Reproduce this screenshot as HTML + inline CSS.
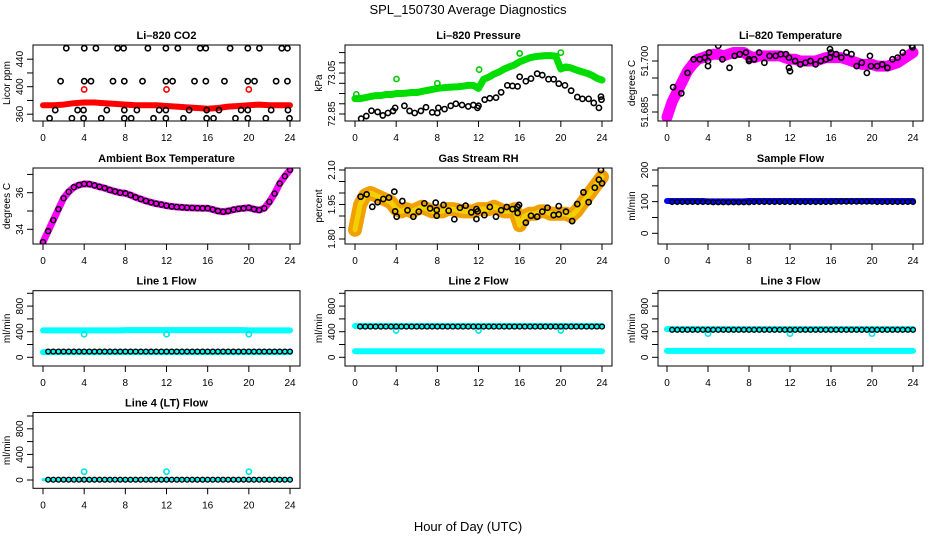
<!DOCTYPE html>
<html><head><meta charset="utf-8"><style>
html,body{margin:0;padding:0;background:#fff;}
svg{display:block;font-family:"Liberation Sans",sans-serif;}
</style></head><body>
<svg id="chart" width="936" height="540" viewBox="0 0 936 540" xmlns="http://www.w3.org/2000/svg">
<text x="468" y="14" text-anchor="middle" font-size="13">SPL_150730  Average Diagnostics</text>
<text x="468" y="531" text-anchor="middle" font-size="13">Hour of Day (UTC)</text>
</svg>
<script>
// ---------- data ----------
const xTickLabels = [0,4,8,12,16,20,24];
const halfHours = [0,0.5,1,1.5,2,2.5,3,3.5,4,4.5,5,5.5,6,6.5,7,7.5,8,8.5,9,9.5,10,10.5,11,11.5,12,12.5,13,13.5,14,14.5,15,15.5,16,16.5,17,17.5,18,18.5,19,19.5,20,20.5,21,21.5,22,22.5,23,23.5,24];
const blackHours = [0.5,1,1.5,2,2.5,3,3.5,4,4.5,5,5.5,6,6.5,7,7.5,8,8.5,9,9.5,10,10.5,11,11.5,12,12.5,13,13.5,14,14.5,15,15.5,16,16.5,17,17.5,18,18.5,19,19.5,20,20.5,21,21.5,22,22.5,23,23.5,24];
const dipHours = [4,12,20];

// CO2
const co2Hours = [0,1,2,3,4,5,6,7,8,9,10,11,12,13,14,15,16,17,18,19,20,21,22,23,24];
const co2Red = [373,373,374,376,377,377,376,375,374,373,373,373,372,371,370,369,368,369,371,372,373,374,373,373,373];
const co2RedOutliers = [396,396,396];
const co2BlackHours = [2.26,4.01,5.14,7.25,7.83,10.19,11.94,13.1,15.27,15.82,18.18,19.9,21.03,23.2,23.75,
 1.71,4.01,4.66,6.8,7.9,9.67,11.94,12.59,14.72,15.82,17.63,19.9,20.55,22.65,23.75,
 1.19,3.36,3.94,6.2,7.9,9.12,11.29,11.94,14.2,15.9,17.1,19.25,19.9,22.17,23.8,
 0.64,2.81,3.94,5.66,7.9,8.57,10.74,11.94,13.65,15.9,16.57,18.7,19.9,21.65,23.95];
const co2BlackVals = [456,456,456,456,456,456,456,456,456,456,456,456,456,456,456,
 408,408,408,408,408,408,408,408,408,408,408,408,408,408,408,
 366,366,366,366,366,366,366,366,366,366,366,366,366,366,366,
 354,354,354,354,354,354,354,354,354,354,354,354,354,354,354];

// Pressure
const presGreen = [72.925,72.925,72.93,72.935,72.94,72.94,72.945,72.945,72.95,72.95,72.952,72.955,72.955,72.96,72.965,72.97,72.975,72.978,72.98,72.982,72.983,72.986,72.99,72.99,72.975,73.02,73.03,73.045,73.055,73.07,73.08,73.09,73.105,73.115,73.125,73.13,73.133,73.135,73.135,73.133,73.07,73.08,73.075,73.065,73.057,73.05,73.04,73.025,73.016];
const presGreenOutHours = [0.13,4.03,8.0,12.06,16.0,20.0];
const presGreenOutVals = [72.946,73.021,73.0,73.067,73.146,73.15];
const presBlackHours = [0.6,1.1,1.6,2.2,2.7,3.2,3.7,3.9,4.8,5.3,5.8,6.4,6.9,7.5,8.0,8.1,8.7,9.3,9.8,10.4,11.0,11.5,11.9,12.0,12.6,13.1,13.7,14.2,14.8,15.3,15.8,16.0,16.6,17.1,17.7,18.2,18.8,19.3,19.8,20.4,21.0,21.6,22.1,22.7,23.2,23.7,23.9,23.95];
const presBlackVals = [72.827,72.84,72.866,72.86,72.843,72.855,72.865,72.88,72.89,72.865,72.855,72.865,72.883,72.858,72.855,72.88,72.874,72.89,72.9,72.894,72.887,72.894,72.88,72.89,72.92,72.927,72.93,72.956,72.99,72.987,72.985,73.032,73.01,73.023,73.047,73.04,73.02,73.02,72.998,72.99,72.964,72.933,72.924,72.924,72.904,72.88,72.935,72.92];

// Li-820 temperature
const tempMagenta = [51.6835,51.688,51.691,51.694,51.697,51.699,51.7005,51.701,51.7015,51.702,51.702,51.7015,51.702,51.7025,51.7025,51.7025,51.7015,51.701,51.7015,51.7015,51.7015,51.7015,51.7015,51.701,51.7005,51.7005,51.700,51.700,51.700,51.700,51.7005,51.701,51.701,51.701,51.701,51.7005,51.700,51.6995,51.699,51.699,51.699,51.6985,51.6985,51.6985,51.699,51.6995,51.7005,51.7015,51.7025];
const tempBlackHours = [0.6,1.4,2.0,2.6,3.2,3.7,4.0,4.0,4.1,5.0,5.4,6.1,6.6,7.1,7.7,8.0,8.0,8.5,9.0,9.5,10.0,10.6,11.1,11.6,11.9,11.9,12.0,12.5,13.0,13.5,14.0,14.5,15.0,15.5,15.9,15.9,16.0,16.5,17.0,17.5,18.0,18.5,19.0,19.5,19.8,19.9,20.5,21.0,21.5,22.0,22.5,23.0,23.9,23.95];
const tempBlackVals = [51.6923,51.6905,51.6965,51.7005,51.7005,51.701,51.6985,51.700,51.7025,51.7045,51.7005,51.698,51.7015,51.702,51.7025,51.700,51.7005,51.7005,51.7025,51.6995,51.7015,51.7015,51.702,51.702,51.701,51.698,51.697,51.700,51.699,51.6995,51.700,51.699,51.700,51.7005,51.701,51.7035,51.7025,51.702,51.701,51.7025,51.702,51.6985,51.6995,51.6965,51.7015,51.6985,51.6985,51.699,51.698,51.7005,51.701,51.7025,51.7045,51.704];

// Ambient box temperature
const boxTemp = [33.3,33.9,34.5,35.1,35.7,36.05,36.3,36.42,36.48,36.47,36.4,36.32,36.25,36.15,36.07,36.0,35.97,35.87,35.75,35.65,35.55,35.47,35.4,35.35,35.29,35.25,35.22,35.2,35.18,35.17,35.16,35.15,35.15,35.08,35.0,34.96,35.0,35.07,35.12,35.15,35.18,35.1,35.05,35.15,35.5,35.95,36.5,36.9,37.25];

// Gas stream RH
const rhBand = [1.84,1.95,1.99,2.0,1.99,1.98,1.97,1.96,1.93,1.92,1.93,1.92,1.93,1.94,1.93,1.92,1.92,1.92,1.93,1.93,1.925,1.92,1.92,1.92,1.93,1.93,1.93,1.94,1.93,1.92,1.92,1.93,1.86,1.9,1.91,1.91,1.92,1.92,1.91,1.91,1.91,1.91,1.9,1.92,1.95,1.98,2.01,2.04,2.07];
const rhBlackHours = [0.55,1.13,1.68,2.2,2.75,3.3,3.82,3.9,4.05,4.6,5.1,5.67,6.2,6.74,7.3,7.84,7.94,7.94,8.6,9.1,9.65,10.2,10.75,11.3,11.8,11.8,11.92,12.57,13.1,13.7,14.2,14.74,15.3,15.8,15.8,15.94,16.6,17.1,17.7,18.2,18.7,19.3,19.8,19.8,20.5,21.1,21.6,22.2,22.7,23.3,23.7,23.9,24.0];
const rhBlackVals = [1.984,1.994,1.94,1.96,1.974,1.98,2.006,1.92,1.897,1.965,1.925,1.897,1.919,1.955,1.933,1.958,1.926,1.901,1.948,1.923,1.886,1.936,1.945,1.916,1.93,1.887,1.92,1.904,1.939,1.897,1.925,1.939,1.93,1.94,1.913,1.948,1.871,1.901,1.897,1.919,1.936,1.904,1.943,1.907,1.919,1.878,1.952,2.003,1.96,2.023,2.058,2.1,2.042];

// Sample flow
const sampleBlue = [102,102,102,102,102,102,102,102,101,101,101,101,101,101,101,101,102,102,102,102,102,102,102,102,102,102,102,102,102,102,102,102,102,102,102,102,102,102,102,102,102,102,102,102,102,102,102,102,102];
const sampleBlack = [99,99,99,99,99,99,99,99,98,98,98,98,98,98,98,98,99,99,99,99,99,99,99,99,99,99,99,99,99,99,99,99,100,100,100,100,100,100,100,100,99,99,99,99,99,99,99,99];

// Line flows
const line1CyanHigh = [420,420,420,420,420,420,420,420,420,420,420,420,420,420,420,420,425,425,425,425,425,425,425,425,425,425,425,425,425,425,425,425,425,425,425,425,425,425,425,425,420,420,420,420,420,420,420,420,420];
const line1CyanLow = [80,80,80,80,80,80,80,80,80,80,80,80,80,80,80,80,80,80,80,80,80,80,80,80,80,80,80,80,80,80,80,80,80,80,80,80,80,80,80,80,80,80,80,80,80,80,80,80,80];
const line1Black = [90,90,90,90,90,90,90,90,90,90,90,90,90,90,90,90,90,90,90,90,90,90,90,90,90,90,90,90,90,90,90,90,90,90,90,90,90,90,90,90,90,90,90,90,90,90,90,90];
const line1Dips = [360,360,360];

const line2CyanHigh = [490,490,490,490,490,490,490,490,490,490,490,490,490,490,490,490,490,490,490,490,490,490,490,490,490,490,490,490,490,490,490,490,490,490,490,490,490,490,490,490,490,490,490,490,490,490,490,490,490];
const line2CyanLow = [95,95,95,95,95,95,95,95,95,95,95,95,95,95,95,95,95,95,95,95,95,95,95,95,95,95,95,95,95,95,95,95,95,95,95,95,95,95,95,95,95,95,95,95,95,95,95,95,95];
const line2Black = [480,480,480,480,480,480,480,480,480,480,480,480,480,480,480,480,480,480,480,480,480,480,480,480,480,480,480,480,480,480,480,480,480,480,480,480,480,480,480,480,480,480,480,480,480,480,480,480];
const line2Dips = [420,420,420];

const line3CyanHigh = [440,440,440,440,440,440,440,440,440,440,440,440,440,440,440,440,440,440,440,440,440,440,440,440,440,440,440,440,440,440,440,440,440,440,440,440,440,440,440,440,440,440,440,440,440,440,440,440,440];
const line3CyanLow = [100,100,100,100,100,100,100,100,100,100,100,100,100,100,100,100,100,100,100,100,100,100,100,100,100,100,100,100,100,100,100,100,100,100,100,100,100,100,100,100,100,100,100,100,100,100,100,100,100];
const line3Black = [430,430,430,430,430,430,430,430,430,430,430,430,430,430,430,430,430,430,430,430,430,430,430,430,430,430,430,430,430,430,430,430,430,430,430,430,430,430,430,430,430,430,430,430,430,430,430,430];
const line3Dips = [370,370,370];

const line4CyanLow = [5,5,5,5,5,5,5,5,5,5,5,5,5,5,5,5,5,5,5,5,5,5,5,5,5,5,5,5,5,5,5,5,5,5,5,5,5,5,5,5,5,5,5,5,5,5,5,5,5];
const line4Black = [5,5,5,5,5,5,5,5,5,5,5,5,5,5,5,5,5,5,5,5,5,5,5,5,5,5,5,5,5,5,5,5,5,5,5,5,5,5,5,5,5,5,5,5,5,5,5,5];
const line4Dips = [130,130,130];

// ---------- drawing ----------
const NS = "http://www.w3.org/2000/svg";
const svg = document.getElementById('chart');
const cols = [{l:33,r:300,x0:43,x24:290},{l:345,r:612,x0:355,x24:602},{l:658,r:923,x0:667,x24:913}];
const rows = [{t:45,b:121},{t:168,b:244},{t:290.7,b:366},{t:412.5,b:488.3}];

function mk(tag, parent){ const e=document.createElementNS(NS,tag); parent.appendChild(e); return e; }

function panel(name, title, ci, ri, yTitle, yv1, yp1, yv2, yp2, ticks, labels, dec){
  const c=cols[ci], r=rows[ri];
  const g=mk('g',svg);
  
  
  const clipId='clip-'+name;
  const cp=mk('clipPath',g); cp.setAttribute('id',clipId);
  const cr=mk('rect',cp); cr.setAttribute('x',c.l); cr.setAttribute('y',r.t); cr.setAttribute('width',c.r-c.l); cr.setAttribute('height',r.b-r.t);
  const xs=h=>c.x0+(c.x24-c.x0)*h/24;
  const ys=v=>yp1+(v-yv1)*(yp2-yp1)/(yv2-yv1);
  const t=mk('text',g);
  
  
  t.setAttribute('x',(c.l+c.r)/2); t.setAttribute('y',r.t-6); t.setAttribute('text-anchor','middle');
  t.setAttribute('font-size','11'); t.setAttribute('font-weight','bold'); t.textContent=title;
  const plot=mk('g',g); plot.setAttribute('clip-path','url(#'+clipId+')');
  
  
  const box=mk('rect',g);
  
  
  box.setAttribute('x',c.l); box.setAttribute('y',r.t); box.setAttribute('width',c.r-c.l); box.setAttribute('height',r.b-r.t);
  box.setAttribute('fill','none'); box.setAttribute('stroke','#000'); box.setAttribute('stroke-width','1');
  const xa=mk('g',g);
  
  
  xTickLabels.forEach(v=>{
    const l=mk('line',xa); l.setAttribute('x1',xs(v)); l.setAttribute('x2',xs(v)); l.setAttribute('y1',r.b); l.setAttribute('y2',r.b+6); l.setAttribute('stroke','#000');
    const tx=mk('text',xa); tx.setAttribute('x',xs(v)); tx.setAttribute('y',r.b+20); tx.setAttribute('text-anchor','middle'); tx.setAttribute('font-size','10'); tx.textContent=v;
  });
  const ya=mk('g',g);
  
  
  ticks.forEach(v=>{
    const y=ys(v); if(y<r.t-0.5||y>r.b+0.5) return;
    const l=mk('line',ya); l.setAttribute('x1',c.l-6); l.setAttribute('x2',c.l); l.setAttribute('y1',y); l.setAttribute('y2',y); l.setAttribute('stroke','#000');
  });
  labels.forEach(v=>{
    const y=ys(v);
    const tx=mk('text',ya); tx.setAttribute('transform','translate('+(c.l-10)+','+y+') rotate(-90)'); tx.setAttribute('text-anchor','middle'); tx.setAttribute('font-size','10');
    tx.textContent = dec!==undefined ? v.toFixed(dec) : v;
  });
  const yt=mk('text',g);
  
  
  yt.setAttribute('transform','translate('+(c.l-23)+','+((r.t+r.b)/2)+') rotate(-90)'); yt.setAttribute('text-anchor','middle'); yt.setAttribute('font-size','10'); yt.textContent=yTitle;
  return {plot,xs,ys};
}

function band(p, hours, vals, color, width, sname){
  const pl=mk('polyline',p.plot);
  
  
  pl.setAttribute('points', hours.map((h,i)=>p.xs(h)+','+p.ys(vals[i])).join(' '));
  pl.setAttribute('fill','none'); pl.setAttribute('stroke',color); pl.setAttribute('stroke-width',width);
  pl.setAttribute('stroke-linejoin','round'); pl.setAttribute('stroke-linecap','round');
}
function dots(p, hours, vals, color, sname, rad, sw){
  const gg=mk('g',p.plot);
  
  
  hours.forEach((h,i)=>{
    const c=mk('circle',gg);
    
    
    c.setAttribute('cx',p.xs(h)); c.setAttribute('cy',p.ys(vals[i])); c.setAttribute('r',rad||2.6);
    c.setAttribute('fill','none'); c.setAttribute('stroke',color); c.setAttribute('stroke-width',sw||1.6);
  });
}

let p;
p=panel('co2','Li\u2013820 CO2',0,0,'Licor ppm',400,86.7,360,114.2,[360,380,400,420,440],[360,400,440]);
band(p,co2Hours,co2Red,'#ff0000',6,'co2-red-band');
dots(p,dipHours,co2RedOutliers,'#ff0000','co2-red-outliers');
dots(p,co2BlackHours,co2BlackVals,'#000','co2-black-points');

p=panel('pressure','Li\u2013820 Pressure',1,0,'kPa',73,83.3,72.85,114,[72.8,72.85,72.9,72.95,73,73.05,73.1,73.15],[72.85,73.05],2);
band(p,halfHours,presGreen,'#00dd00',7,'pressure-green-band');
dots(p,presGreenOutHours,presGreenOutVals,'#00cc00','pressure-green-outliers');
dots(p,presBlackHours,presBlackVals,'#000','pressure-black-points');

p=panel('li820-temp','Li\u2013820 Temperature',2,0,'degrees C',51.700,61,51.685,112,[51.685,51.690,51.695,51.700],[51.685,51.700],3);
band(p,halfHours,tempMagenta,'#ff00ff',11,'temp-magenta-band');
dots(p,tempBlackHours,tempBlackVals,'#000','temp-black-points');

p=panel('box-temp','Ambient Box Temperature',0,1,'degrees C',36,192.7,34,229.3,[34,35,36,37],[34,36]);
band(p,halfHours,boxTemp,'#ff00ff',7,'box-temp-magenta-band');
dots(p,halfHours,boxTemp,'#000','box-temp-black-points',2.5,1.4);

p=panel('rh','Gas Stream RH',1,1,'percent',2.10,170,1.80,239,[1.80,1.85,1.90,1.95,2.00,2.05,2.10],[1.80,1.95,2.10],2);
band(p,halfHours,rhBand,'#f0a000',14,'rh-orange-band');
band(p,halfHours,rhBand,'#f5d000',5,'rh-yellow-band');
dots(p,rhBlackHours,rhBlackVals,'#000','rh-black-points');

p=panel('sample-flow','Sample Flow',2,1,'ml/min',200,170,0,233.3,[0,50,100,150,200],[0,100,200]);
band(p,halfHours,sampleBlue,'#0000ff',6,'sample-flow-blue-band');
dots(p,blackHours,sampleBlack,'#000','sample-flow-black-points',2.4,1.4);

const flowTicks=[0,200,400,600,800,1000], flowLabels=[0,400,800];
p=panel('line1','Line 1 Flow',0,2,'ml/min',0,357.3,400,331.7,flowTicks,flowLabels);
band(p,halfHours,line1CyanHigh,'#00ffff',6,'line1-cyan-high-band');
band(p,halfHours,line1CyanLow,'#00ffff',6,'line1-cyan-low-band');
dots(p,dipHours,line1Dips,'#00e5e5','line1-cyan-dips');
dots(p,blackHours,line1Black,'#000','line1-black-points',2.4,1.4);

p=panel('line2','Line 2 Flow',1,2,'ml/min',0,357.3,400,331.7,flowTicks,flowLabels);
band(p,halfHours,line2CyanHigh,'#00ffff',6,'line2-cyan-high-band');
band(p,halfHours,line2CyanLow,'#00ffff',6,'line2-cyan-low-band');
dots(p,dipHours,line2Dips,'#00e5e5','line2-cyan-dips');
dots(p,blackHours,line2Black,'#000','line2-black-points',2.4,1.4);

p=panel('line3','Line 3 Flow',2,2,'ml/min',0,357.3,400,331.7,flowTicks,flowLabels);
band(p,halfHours,line3CyanHigh,'#00ffff',6,'line3-cyan-high-band');
band(p,halfHours,line3CyanLow,'#00ffff',6,'line3-cyan-low-band');
dots(p,dipHours,line3Dips,'#00e5e5','line3-cyan-dips');
dots(p,blackHours,line3Black,'#000','line3-black-points',2.4,1.4);

p=panel('line4','Line 4 (LT) Flow',0,3,'ml/min',0,480,400,454.4,flowTicks,flowLabels);
band(p,halfHours,line4CyanLow,'#00ffff',3,'line4-cyan-band');
dots(p,dipHours,line4Dips,'#00e5e5','line4-cyan-dips');
dots(p,blackHours,line4Black,'#000','line4-black-points',2.4,1.4);
</script>
</body></html>
